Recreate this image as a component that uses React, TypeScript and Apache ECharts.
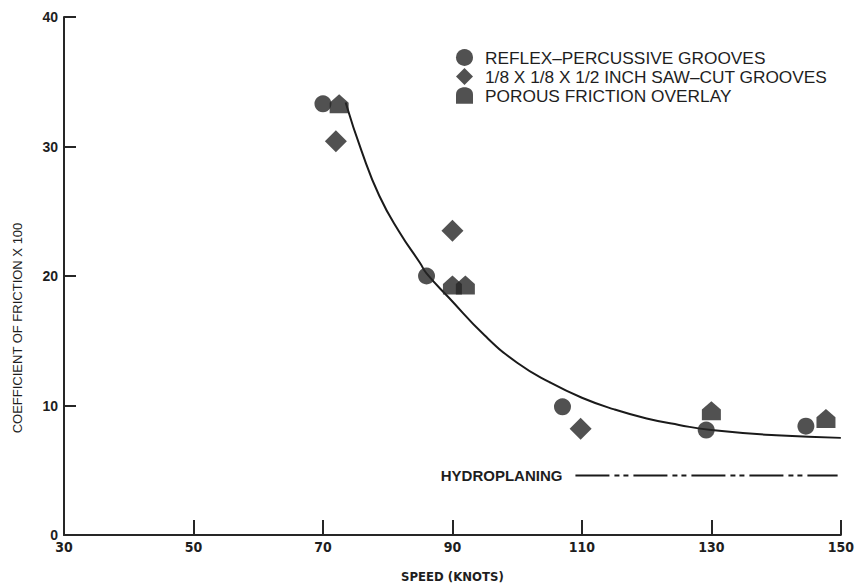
import React, { useEffect, useRef } from "react";
import * as echarts from "echarts";

// Measured friction coefficients (x 100) against speed in knots
const reflexSpeed = [70, 86, 107, 129.2, 144.6];
const reflexFriction = [33.3, 20.0, 9.9, 8.1, 8.4];

const sawCutSpeed = [72, 90, 109.8];
const sawCutFriction = [30.4, 23.5, 8.2];

const porousSpeed = [72.5, 90, 92, 130, 147.7];
const porousFriction = [33.3, 19.3, 19.3, 9.6, 9.0];

// Faired trend curve through the data
const curveSpeed = [73.5, 76, 78.7, 81.8, 85, 86, 89.5, 95, 100, 105, 110, 115, 120, 125, 130, 140, 150];
const curveFriction = [33.4, 29.6, 26.2, 23.4, 21.0, 20.2, 18.3, 15.4, 13.3, 11.8, 10.6, 9.7, 9.0, 8.5, 8.1, 7.7, 7.5];

// Hydroplaning threshold band
const hydroSpeed = [109, 149.5];
const hydroFriction = [4.6, 4.6];

const speedTicks = [30, 50, 70, 90, 110, 130, 150];

const SERIES_NAMES = [
  "REFLEX–PERCUSSIVE GROOVES",
  "1/8 X 1/8 X 1/2 INCH SAW–CUT GROOVES",
  "POROUS FRICTION OVERLAY",
];

const INK = "#262626";
const TEXT = "#1e1e1e";
const NARROW = "'DejaVu Sans Condensed', 'Liberation Sans', sans-serif";
const HOUSE = "path://M0,10 L0,4.4 L5,0 L10,4.4 L10,10 Z";
const DOME = "path://M0,10 L0,4.5 C0,-1.2 10,-1.2 10,4.5 L10,10 Z";

const zip = (xs: number[], ys: number[]) => xs.map((x, i) => [x, ys[i]]);

export default function App() {
  const ref = useRef<HTMLDivElement>(null);

  useEffect(() => {
    if (!ref.current) return;
    const chart = echarts.init(ref.current, undefined, { renderer: "svg" });

    chart.setOption({
      animation: false,
      backgroundColor: "#ffffff",
      grid: { left: 64, right: 14, top: 17, bottom: 51 },
      legend: {
        orient: "vertical",
        left: 451,
        top: 44,
        itemWidth: 17,
        itemHeight: 17,
        itemGap: 2,
        selectedMode: false,
        textStyle: {
          fontFamily: "Liberation Sans",
          fontSize: 17.3,
          color: TEXT,
          padding: [0, 0, 0, 7],
        },
        data: [
          { name: SERIES_NAMES[0], icon: "circle" },
          { name: SERIES_NAMES[1], icon: "diamond" },
          { name: SERIES_NAMES[2], icon: DOME },
        ],
      },
      xAxis: {
        type: "value",
        min: 30,
        max: 150,
        interval: 20,
        name: "SPEED (KNOTS)",
        nameLocation: "middle",
        nameGap: 35,
        nameTextStyle: {
          fontFamily: NARROW,
          fontWeight: "bold",
          fontSize: 13,
          color: TEXT,
        },
        axisLine: { lineStyle: { color: INK, width: 2 } },
        axisTick: {
          inside: true,
          length: 15,
          lineStyle: { color: INK, width: 2 },
        },
        axisLabel: {
          margin: 5,
          fontFamily: NARROW,
          fontWeight: "bold",
          fontSize: 14,
          color: TEXT,
          formatter: (v: number) => (speedTicks.includes(v) ? String(v) : ""),
        },
        splitLine: { show: false },
      },
      yAxis: {
        type: "value",
        min: 0,
        max: 40,
        interval: 10,
        axisLine: { show: true, lineStyle: { color: INK, width: 2 } },
        axisTick: {
          show: true,
          inside: true,
          length: 12,
          lineStyle: { color: INK, width: 2 },
        },
        axisLabel: {
          margin: 6,
          fontFamily: "Liberation Sans",
          fontWeight: "bold",
          fontSize: 14,
          color: TEXT,
        },
        splitLine: { show: false },
      },
      graphic: [
        {
          type: "text",
          x: 17,
          y: 328,
          rotation: Math.PI / 2,
          style: {
            text: "COEFFICIENT OF FRICTION X 100",
            fontFamily: "Liberation Sans",
            fontSize: 13,
            fill: TEXT,
            textAlign: "center",
            textVerticalAlign: "middle",
          },
        },
      ],
      series: [
        {
          type: "line",
          data: zip(curveSpeed, curveFriction),
          smooth: 0.5,
          showSymbol: false,
          silent: true,
          lineStyle: { color: "#1a1a1a", width: 2 },
          z: 1,
        },
        {
          type: "line",
          data: zip(hydroSpeed, hydroFriction),
          showSymbol: false,
          silent: true,
          lineStyle: { color: "#1a1a1a", width: 2, type: [34, 5, 5, 4, 5, 5] },
          markPoint: {
            symbol: "circle",
            symbolSize: 0,
            data: [
              {
                coord: [hydroSpeed[0], hydroFriction[0]],
                label: {
                  show: true,
                  position: "left",
                  distance: 13,
                  formatter: "HYDROPLANING",
                  fontFamily: "Liberation Sans",
                  fontWeight: "bold",
                  fontSize: 15,
                  color: TEXT,
                },
              },
            ],
          },
          z: 1,
        },
        {
          name: SERIES_NAMES[0],
          type: "scatter",
          symbol: "circle",
          symbolSize: 17,
          itemStyle: { color: INK },
          data: zip(reflexSpeed, reflexFriction),
          z: 3,
        },
        {
          name: SERIES_NAMES[1],
          type: "scatter",
          symbol: "diamond",
          symbolSize: 22,
          itemStyle: { color: INK },
          data: zip(sawCutSpeed, sawCutFriction),
          z: 3,
        },
        {
          name: SERIES_NAMES[2],
          type: "scatter",
          symbol: HOUSE,
          symbolSize: 19,
          itemStyle: { color: INK },
          data: zip(porousSpeed, porousFriction),
          z: 3,
        },
      ],
    });

    return () => chart.dispose();
  }, []);

  // The chart covers the whole 857x588 viewport, independent of the body margin
  return (
    <div
      ref={ref}
      style={{ position: "absolute", left: 0, top: 0, width: 857, height: 588 }}
    />
  );
}
